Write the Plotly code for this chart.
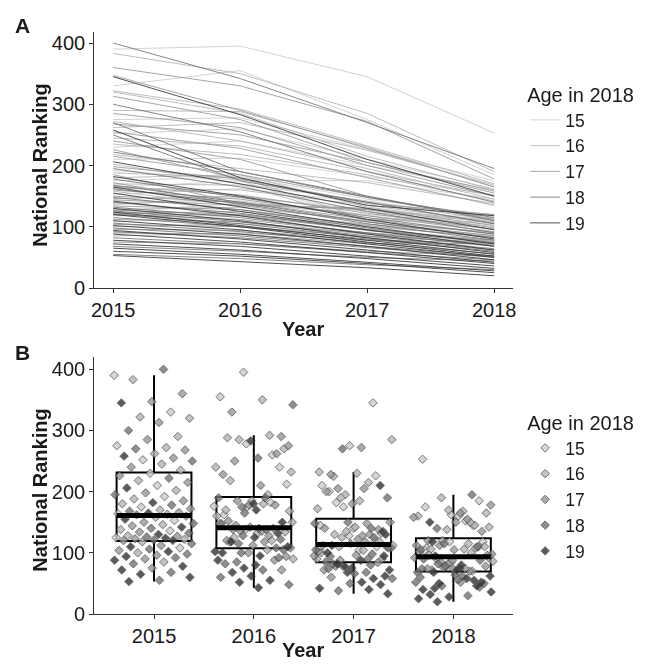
import numpy as np
import plotly.graph_objects as go

years = [2015, 2016, 2017, 2018]
ages = [15, 16, 17, 18, 19]
age_colors = {15: "#CCCCCC", 16: "#B4B4B4", 17: "#989898", 18: "#737373", 19: "#333333"}

player_age = [15, 18, 16, 17, 17, 19, 15, 16, 16, 17, 18, 16, 17, 15, 16, 18, 17, 16, 19, 17,
              15, 18, 16, 17, 16, 15, 17, 18, 16, 17, 15, 19, 16, 17, 18, 15, 16, 17, 19, 16,
              18, 15, 17, 16, 18, 17, 19, 15, 16, 18, 17, 16, 19, 15, 17, 18, 16, 17, 19, 18,
              16, 15, 17, 18, 19, 16, 17, 18, 15, 19, 17, 16, 18, 17, 19, 16, 18, 17, 19, 15,
              18, 17, 19, 16, 18, 17, 19, 18, 17, 19, 16, 18, 19, 17, 19, 18, 19, 19, 18, 19]
rank_2015 = [390, 400, 383, 360, 347, 345, 330, 322, 320, 313, 300, 290, 285, 275, 272, 270, 268, 262, 258, 255,
             252, 250, 245, 240, 235, 230, 226, 222, 218, 215, 210, 206, 202, 198, 195, 192, 188, 185, 182, 180,
             178, 175, 172, 170, 168, 166, 165, 164, 163, 162, 160, 158, 155, 153, 150, 148, 146, 144, 142, 140,
             138, 136, 134, 132, 130, 128, 127, 126, 125, 124, 123, 122, 121, 120, 120, 118, 115, 112, 110, 108,
             106, 104, 102, 100, 98, 96, 94, 92, 90, 88, 85, 82, 78, 75, 72, 68, 65, 60, 55, 53]
rank_2016 = [395, 342, 350, 330, 290, 283, 355, 292, 285, 275, 255, 288, 262, 278, 240, 190, 250, 270, 180, 228,
             260, 175, 232, 210, 218, 240, 178, 190, 195, 185, 212, 170, 170, 178, 165, 176, 180, 138, 150, 185,
             148, 182, 136, 168, 140, 152, 132, 175, 160, 138, 145, 134, 125, 162, 140, 128, 150, 135, 118, 122,
             142, 148, 128, 115, 110, 132, 120, 108, 138, 102, 118, 125, 105, 112, 100, 120, 100, 108, 95, 118,
             92, 100, 88, 105, 85, 94, 80, 82, 88, 75, 90, 72, 68, 72, 62, 60, 55, 52, 48, 43]
rank_2017 = [345, 270, 285, 272, 228, 210, 275, 232, 215, 205, 190, 230, 200, 226, 195, 148, 205, 225, 135, 180,
             210, 140, 190, 150, 185, 200, 138, 150, 172, 148, 182, 130, 142, 140, 125, 175, 112, 128, 112, 132,
             115, 145, 130, 110, 108, 122, 100, 110, 135, 105, 118, 130, 95, 140, 112, 98, 125, 108, 88, 94,
             118, 128, 102, 90, 82, 110, 96, 85, 120, 78, 95, 104, 82, 90, 75, 100, 80, 88, 72, 104,
             74, 84, 68, 90, 68, 78, 62, 66, 72, 58, 78, 58, 52, 60, 48, 50, 42, 40, 38, 33]
rank_2018 = [253, 195, 190, 178, 165, 150, 185, 170, 160, 155, 140, 165, 150, 175, 145, 115, 158, 168, 118, 135,
             162, 105, 150, 112, 142, 160, 120, 110, 138, 112, 152, 95, 110, 105, 90, 145, 120, 98, 80, 106,
             88, 118, 102, 115, 82, 96, 72, 108, 108, 78, 92, 106, 68, 118, 88, 74, 100, 85, 62, 74,
             96, 110, 82, 68, 58, 90, 78, 64, 104, 55, 76, 86, 62, 72, 52, 84, 60, 70, 50, 92,
             56, 74, 46, 78, 52, 74, 42, 50, 73, 40, 70, 46, 36, 52, 32, 44, 28, 25, 30, 20]

ranks = [rank_2015, rank_2016, rank_2017, rank_2018]
n = len(player_age)

FONT = "Liberation Sans, Arial, sans-serif"
AX = "#333333"
TXT = "#1a1a1a"

fig = go.Figure()

# ---------- Panel A: lines ----------
for a in ages:
    xs, ys = [], []
    for k in range(n):
        if player_age[k] != a:
            continue
        xs += years + [None]
        ys += [ranks[j][k] for j in range(4)] + [None]
    fig.add_trace(go.Scatter(
        x=xs, y=ys, mode="lines", name=str(a), legend="legend", legendrank=a,
        line=dict(color=age_colors[a], width=1), opacity=0.85,
        xaxis="x", yaxis="y", hoverinfo="skip"))

# ---------- Panel B: jittered points ----------
def jitter(k, j):
    return (((k * 0.6180339 + j * 0.3713) % 1.0) - 0.5) * 0.8

for a in ages:
    xs, ys = [], []
    for j in range(4):
        for k in range(n):
            if player_age[k] != a:
                continue
            xs.append(j + jitter(k, j))
            ys.append(ranks[j][k])
    fig.add_trace(go.Scatter(
        x=xs, y=ys, mode="markers", name=str(a), legend="legend2", legendrank=a,
        marker=dict(symbol="diamond", size=6.5, color=age_colors[a],
                    line=dict(color="rgba(40,40,40,0.8)", width=1)),
        opacity=0.8, xaxis="x2", yaxis="y2", hoverinfo="skip"))

# box statistics (ggplot style)
q1s, meds, q3s, lfs, ufs = [], [], [], [], []
for j in range(4):
    v = np.array(ranks[j], dtype=float)
    q1, med, q3 = np.percentile(v, [25, 50, 75])
    iqr = q3 - q1
    uf = v[v <= q3 + 1.5 * iqr].max()
    lf = v[v >= q1 - 1.5 * iqr].min()
    q1s.append(q1); meds.append(med); q3s.append(q3); lfs.append(lf); ufs.append(uf)

xpos = list(range(4))
fig.add_trace(go.Box(
    x=xpos, q1=q1s, median=meds, q3=q3s, lowerfence=lfs, upperfence=ufs,
    width=0.75, whiskerwidth=0, boxpoints=False,
    fillcolor="rgba(255,255,255,0.7)", line=dict(color="black", width=2),
    showlegend=False, xaxis="x2", yaxis="y2", hoverinfo="skip"))

mx, my = [], []
for j in range(4):
    mx += [xpos[j] - 0.375, xpos[j] + 0.375, None]
    my += [meds[j], meds[j], None]
fig.add_trace(go.Scatter(x=mx, y=my, mode="lines", line=dict(color="black", width=5),
                         showlegend=False, xaxis="x2", yaxis="y2", hoverinfo="skip"))

W, H = 652, 664          # target picture size (positions below are given in these pixels)
FIG_H = 675              # figure height that maps onto the captured picture
def py(px):
    return 1 - px / H

x0, x1 = 92 / W, 515 / W
axis_common = dict(showline=True, linecolor=AX, linewidth=1, ticks="outside", ticklen=4,
                   tickcolor=AX, tickwidth=1, showgrid=False, zeroline=False,
                   tickfont=dict(family=FONT, size=20, color=TXT))

legend_common = dict(xanchor="left", yanchor="top",
                     title=dict(text="Age in 2018", font=dict(family=FONT, size=20, color=TXT)),
                     font=dict(family=FONT, size=17.5, color=TXT), bgcolor="rgba(0,0,0,0)",
                     tracegroupgap=0, itemwidth=30)

def ann(text, x, y, size=20, angle=0, xanchor="center", yanchor="middle"):
    return dict(text=text, x=x / W, y=py(y), xref="paper", yref="paper",
                xanchor=xanchor, yanchor=yanchor, textangle=angle, showarrow=False,
                font=dict(size=size, family=FONT, color=TXT))

fig.update_layout(
    width=W, height=FIG_H, margin=dict(l=0, r=0, t=0, b=0),
    paper_bgcolor="white", plot_bgcolor="white",
    font=dict(family=FONT, color=TXT),
    xaxis=dict(domain=[x0, x1], range=[2014.85, 2018.15], tickvals=years,
               ticktext=[str(y) for y in years], anchor="y", **axis_common),
    yaxis=dict(domain=[py(288), py(32)], range=[0, 418], tickvals=[0, 100, 200, 300, 400],
               anchor="x", **axis_common),
    xaxis2=dict(domain=[x0, x1], range=[-0.6, 3.6], tickvals=xpos,
                ticktext=[str(y) for y in years], anchor="y2", **axis_common),
    yaxis2=dict(domain=[py(614), py(357)], range=[0, 420], tickvals=[0, 100, 200, 300, 400],
                anchor="x2", **axis_common),
    legend=dict(x=527 / W, y=py(76), **legend_common),
    legend2=dict(x=527 / W, y=py(404), **legend_common),
    annotations=[
        ann("<b>A</b>", 10, 25, size=21, xanchor="left"),
        ann("<b>B</b>", 10, 352, size=21, xanchor="left"),
        ann("<b>National Ranking</b>", 37, 165, angle=-90),
        ann("<b>National Ranking</b>", 37, 490, angle=-90),
        ann("<b>Year</b>", 303, 329),
        ann("<b>Year</b>", 303, 663, yanchor="bottom"),
    ],
)

page_fix = "document.body.style.margin='0';document.body.style.overflow='hidden';"
fig.write_html("out.html", config={"displayModeBar": False}, post_script=page_fix)
